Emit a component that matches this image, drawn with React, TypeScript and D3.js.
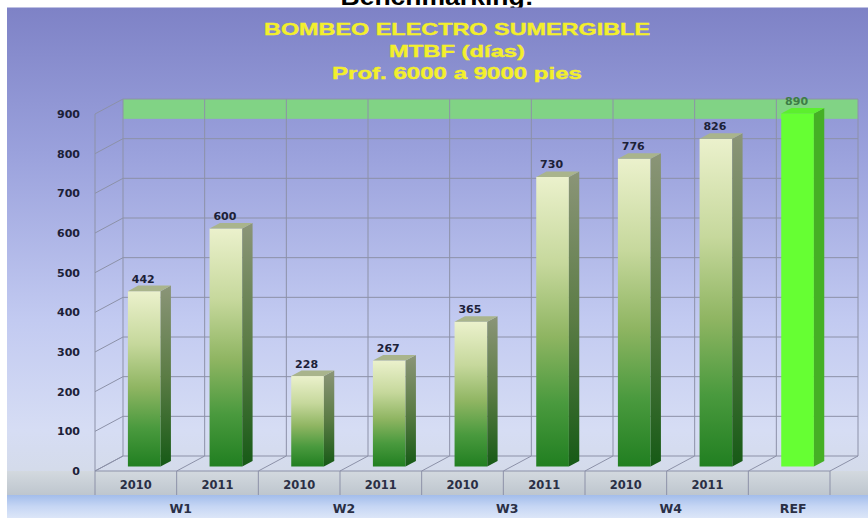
import React from "react";
import * as d3 from "d3";

const categories = ["2010", "2011", "2010", "2011", "2010", "2011", "2010", "2011", ""];
const groupOf = ["W1", "W1", "W2", "W2", "W3", "W3", "W4", "W4", "REF"];
const groupNames = ["W1", "W2", "W3", "W4", "REF"];
const values = [442, 600, 228, 267, 365, 730, 776, 826, 890];
const isRef = [false, false, false, false, false, false, false, false, true];
const yTicks = [0, 100, 200, 300, 400, 500, 600, 700, 800, 900];
const bandRange = [850, 900];
const titleLines = ["BOMBEO ELECTRO SUMERGIBLE", "MTBF (días)", "Prof. 6000 a 9000 pies"];
const headerText = "Benchmarking:";

const W = 868;
const H = 518;
const DX = 28;
const DY = 15;
const F1 = 0.3;
const F2 = 0.67;

export default function App() {
  const idx = categories.map((_, i) => i);
  const x = d3.scaleBand<number>().domain(idx).range([95, 830]).paddingInner(0).paddingOuter(0);
  const y = d3.scaleLinear().domain([0, 900]).range([471, 114]);
  const bw = x.bandwidth();
  const barW = bw * 0.4;
  const xEnd = 830;

  const labelFont = "'DejaVu Sans', Verdana, sans-serif";
  const navy = "#1c2138";
  const grid = "#8c91a8";

  const gxCenter = (g: string) => {
    const ids = idx.filter((i) => groupOf[i] === g);
    const a = x(ids[0])!;
    const b = x(ids[ids.length - 1])! + bw;
    return (a + b) / 2 + 4;
  };

  return (
    <svg width={W} height={H} style={{ position: "absolute", left: 0, top: 0, display: "block" }}>
      <defs>
        <linearGradient id="bg" x1="0" y1="0" x2="0" y2="1">
          <stop offset="0" stopColor="#7e82c6" />
          <stop offset="0.3" stopColor="#9aa1dc" />
          <stop offset="0.65" stopColor="#c2caf1" />
          <stop offset="0.88" stopColor="#d6ddf4" />
          <stop offset="1" stopColor="#d3dae6" />
        </linearGradient>
        <linearGradient id="row" x1="0" y1="0" x2="0" y2="1">
          <stop offset="0" stopColor="#d3d9df" />
          <stop offset="1" stopColor="#bec6ce" />
        </linearGradient>
        <linearGradient id="blue" x1="0" y1="0" x2="0" y2="1">
          <stop offset="0" stopColor="#a3bdeb" />
          <stop offset="0.5" stopColor="#c6d6f4" />
          <stop offset="1" stopColor="#dce6f8" />
        </linearGradient>
        <linearGradient id="front" x1="0" y1="0" x2="0" y2="1">
          <stop offset="0" stopColor="#ebf1cc" />
          <stop offset="0.3" stopColor="#c6d89c" />
          <stop offset="0.55" stopColor="#8fb562" />
          <stop offset="0.78" stopColor="#4a9a3e" />
          <stop offset="1" stopColor="#217f21" />
        </linearGradient>
        <linearGradient id="side" x1="0" y1="0" x2="0" y2="1">
          <stop offset="0" stopColor="#8b9578" />
          <stop offset="0.5" stopColor="#5b7c45" />
          <stop offset="1" stopColor="#165a16" />
        </linearGradient>
      </defs>

      <rect x={0} y={0} width={W} height={H} fill="#ffffff" />
      <text
        x={437}
        y={5}
        textAnchor="middle"
        fontFamily="'Liberation Sans', Arial, sans-serif"
        fontWeight="bold"
        fontSize={24}
        textLength={193}
        lengthAdjust="spacingAndGlyphs"
        fill="#000"
      >
        {headerText}
      </text>

      <rect x={7} y={7.5} width={W - 7} height={488 - 7.5} fill="url(#bg)" />
      <rect x={7} y={471} width={W - 7} height={24} fill="url(#row)" />
      <rect x={7} y={495} width={W - 7} height={H - 495} fill="url(#blue)" />

      {titleLines.map((t, i) => (
        <text
          key={i}
          x={457}
          y={35 + i * 22}
          textAnchor="middle"
          fontFamily="'Liberation Sans', Arial, sans-serif"
          fontWeight="bold"
          fontSize={17}
          textLength={[386, 136, 250][i]}
          lengthAdjust="spacingAndGlyphs"
          fill="#f3ef2c"
          stroke="#f3ef2c"
          strokeWidth={0.4}
        >
          {t}
        </text>
      ))}

      {/* green reference band on back wall */}
      <rect
        x={95 + DX}
        y={y(bandRange[1]) - DY}
        width={xEnd - 95}
        height={y(bandRange[0]) - y(bandRange[1])}
        fill="#7fd97c"
        opacity={0.9}
      />

      {/* gridlines */}
      {yTicks.map((t) => (
        <g key={t} stroke={grid} strokeWidth={1} fill="none">
          <line x1={95} y1={y(t)} x2={95 + DX} y2={y(t) - DY} />
          <line x1={95 + DX} y1={y(t) - DY} x2={xEnd + DX} y2={y(t) - DY} />
        </g>
      ))}
      {d3.range(categories.length + 1).map((i) => {
        const xx = 95 + i * bw;
        return (
          <g key={i} stroke={grid} strokeWidth={1}>
            <line x1={xx + DX} y1={y(900) - DY} x2={xx + DX} y2={y(0) - DY} />
            <line x1={xx} y1={y(0)} x2={xx + DX} y2={y(0) - DY} />
            <line x1={xx} y1={y(0)} x2={xx} y2={495} />
          </g>
        );
      })}
      <line x1={95} y1={y(0)} x2={xEnd} y2={y(0)} stroke={grid} />
      <line x1={95} y1={y(0)} x2={95} y2={y(900)} stroke={grid} />

      {/* y axis labels */}
      {yTicks.map((t) => (
        <text
          key={t}
          x={80}
          y={y(t)}
          dy="0.36em"
          textAnchor="end"
          fontFamily={labelFont}
          fontWeight="bold"
          fontSize={11}
          fill={navy}
        >
          {t}
        </text>
      ))}

      {/* bars */}
      {values.map((v, i) => {
        const left = x(i)! + bw * 0.3 + DX * F1;
        const right = left + barW;
        const bot = y(0) - DY * F1;
        const top = y(v) - DY * F1;
        const sdx = DX * (F2 - F1);
        const sdy = DY * (F2 - F1);
        const ref = isRef[i];
        return (
          <g key={i}>
            <rect x={left} y={top} width={barW} height={bot - top} fill={ref ? "#66ff33" : "url(#front)"} />
            <path
              d={`M${right},${top} L${right + sdx},${top - sdy} L${right + sdx},${bot - sdy} L${right},${bot} Z`}
              fill={ref ? "#45b025" : "url(#side)"}
            />
            <path
              d={`M${left},${top} L${left + sdx},${top - sdy} L${right + sdx},${top - sdy} L${right},${top} Z`}
              fill={ref ? "#5cef2e" : "#a9b48c"}
            />
            <text
              x={left + barW / 2 - 1}
              y={top - 8.5}
              textAnchor="middle"
              fontFamily={labelFont}
              fontWeight="bold"
              fontSize={11}
              fill={ref ? "#3d7d45" : navy}
            >
              {v}
            </text>
          </g>
        );
      })}

      {/* category labels */}
      {categories.map((c, i) => (
        <text
          key={i}
          x={x(i)! + bw / 2}
          y={489}
          textAnchor="middle"
          fontFamily={labelFont}
          fontWeight="bold"
          fontSize={11.5}
          fill="#2a2f45"
        >
          {c}
        </text>
      ))}
      {groupNames.map((g) => (
        <text
          key={g}
          x={gxCenter(g)}
          y={513}
          textAnchor="middle"
          fontFamily={labelFont}
          fontWeight="bold"
          fontSize={12.5}
          fill="#2a2f45"
        >
          {g}
        </text>
      ))}
    </svg>
  );
}
